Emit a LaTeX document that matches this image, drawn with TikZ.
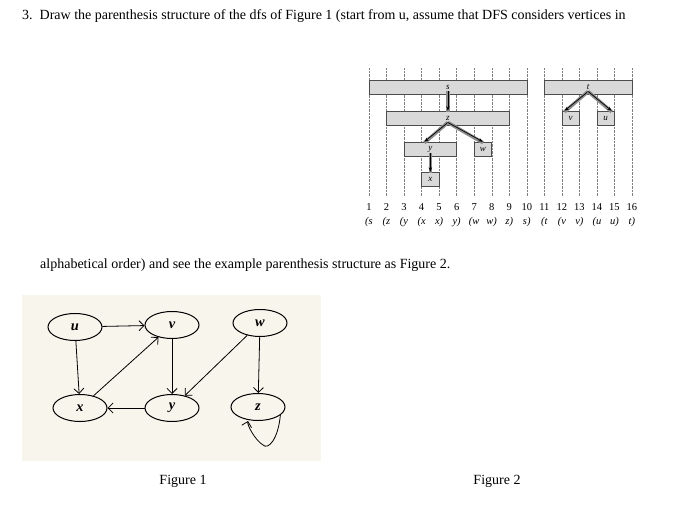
\documentclass[tikz,border=0pt]{standalone}
\usepackage{fontspec}
\setmainfont{Liberation Serif}
\usetikzlibrary{arrows.meta,shapes.geometric}
\definecolor{bgc}{RGB}{247,245,236}
\begin{document}
\begin{tikzpicture}[x=1pt,y=-1pt,
  bx/.style={draw=black!70,fill=black!15,line width=0.5pt,inner sep=0pt,minimum height=14pt,font=\fontsize{9}{10}\selectfont\itshape},
  tv/.style={draw=black!45,line width=3.5pt},
  ta/.style={-{Stealth[length=4.5pt]},line width=0.7pt},
  gn/.style={draw,ellipse,minimum width=54pt,minimum height=27pt,inner sep=0pt,line width=1pt,font=\Large\bfseries\itshape},
  ge/.style={-{Straight Barb[length=5pt]},line width=0.8pt},
  txt/.style={anchor=west,font=\fontsize{14}{16}\selectfont,inner sep=0pt}]
\useasboundingbox (0,0) rectangle (691,518);
\node[txt] (l1) at (22,16) {3.\ \ Draw the parenthesis structure of the dfs of Figure 1 (start from u, assume that DFS considers vertices in};
\node[txt] (l2) at (40,265) {alphabetical order) and see the example parenthesis structure as Figure 2.};
\node[font=\fontsize{14}{16}\selectfont] (f1) at (183,481) {Figure 1};
\node[font=\fontsize{14}{16}\selectfont] (f2) at (497,481) {Figure 2};
% Figure 2 image
\def\cx#1{369+17.53*(#1-1)}
\foreach \i in {1,...,16}{
  \draw[densely dotted,black!50,line width=0.4pt] ({\cx{\i}},68) -- ({\cx{\i}},196);
  \node[font=\fontsize{10.5}{12}\selectfont] at ({\cx{\i}},207) {\i};
}
\foreach \i/\t in {1/(s,2/(z,3/(y,4/(x,5/x),6/y),7/(w,8/w),9/z),10/s),11/(t,12/(v,13/v),14/(u,15/u),16/t)}
  \node[font=\fontsize{10.5}{12}\selectfont\itshape] at ({\cx{\i}},222) {\t};
\def\bxx#1#2#3#4#5{\node[bx,minimum width={17.53*(#3-#2)}] (#1) at ({(\cx{#2}+\cx{#3})/2},#4+7) {#5};}
\bxx{s}{1}{10}{80}{s}
\bxx{z}{2}{9}{111}{z}
\bxx{y}{3}{6}{142}{y}
\bxx{w}{7}{8}{142}{w}
\bxx{x}{4}{5}{172}{x}
\bxx{t}{11}{16}{80}{t}
\bxx{v}{12}{13}{111}{v}
\bxx{u}{14}{15}{111}{u}
\foreach \a/\b/\c in {s/z/0,z/y/-6,z/w/0,y/x/0,t/v/-6,t/u/6}{
  \draw[tv] ([yshift=-4.5pt]\a.center) -- ([xshift=\c pt,yshift=-1pt]\b.north);
  \draw[ta] ([yshift=-4.5pt]\a.center) -- ([xshift=\c pt]\b.north);
}
% Figure 1
\fill[bgc] (22,295) rectangle (321,461);
\node[gn] (gu) at (75,327) {u};
\node[gn] (gv) at (172,325) {v};
\node[gn] (gw) at (260,323) {w};
\node[gn] (gx) at (80,408) {x};
\node[gn] (gy) at (172,408) {y};
\node[gn] (gz) at (258,407) {z};
\draw[ge] (gu) -- (gv);
\draw[ge] (gu) -- (gx);
\draw[ge] (gx) -- (gv);
\draw[ge] (gv) -- (gy);
\draw[ge] (gw) -- (gy);
\draw[ge] (gy) -- (gx);
\draw[ge] (gw) -- (gz);
\draw[ge] (gz.-20) .. controls (278,440) and (268,450) .. (263,445) .. controls (255,440) and (247,425) .. (248,421);
\end{tikzpicture}
\end{document}
